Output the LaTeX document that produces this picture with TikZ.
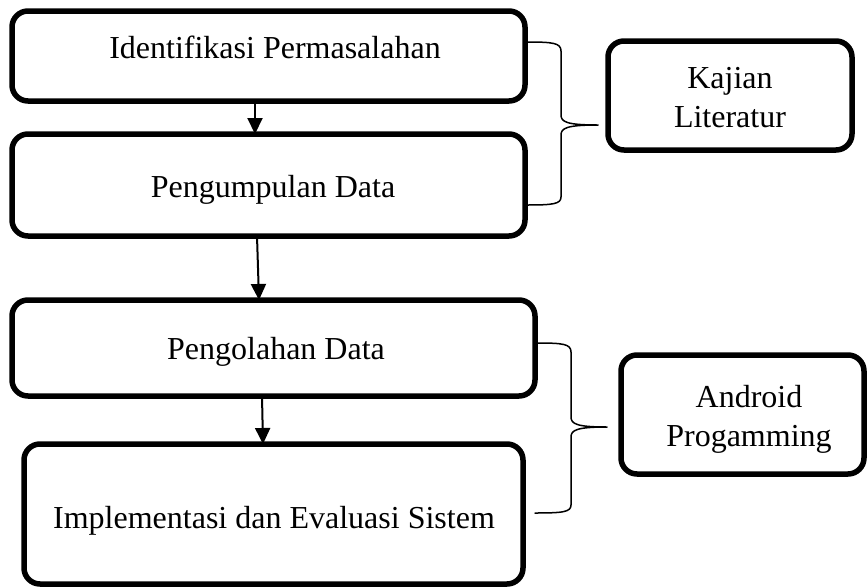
\documentclass[tikz,border=0pt]{standalone}
\usepackage{fontspec}
\setmainfont{Liberation Serif}
\usetikzlibrary{arrows.meta}
\begin{document}
\begin{tikzpicture}[x=1pt,y=-1pt,
  box/.style={draw, line width=5.5pt, rounded corners=16pt, inner sep=0pt, outer sep=0pt},
  lbl/.style={font=\fontsize{32}{39}\selectfont, anchor=base, inner sep=0pt, align=center},
  arr/.style={line width=2pt, -{Triangle[length=16pt,width=15pt]}},
  brace/.style={line width=1.5pt, line join=round, line cap=round}]
\useasboundingbox (0,0) rectangle (868,587);
% boxes
\node[box, minimum width=513pt, minimum height=90pt]  (b1) at (268.5,56) {};
\node[box, minimum width=513pt, minimum height=102pt] (b2) at (268.5,185) {};
\node[box, minimum width=523pt, minimum height=96pt]  (b3) at (273.5,348) {};
\node[box, minimum width=499pt, minimum height=140pt] (b4) at (273.5,514) {};
\node[box, minimum width=244pt, minimum height=109pt] (kl) at (730,95.5) {};
\node[box, minimum width=243pt, minimum height=119pt] (ap) at (742.5,414.5) {};
% labels (base anchor = baseline of the last line)
\node[lbl] (t1) at (275,58)  {Identifikasi Permasalahan};
\node[lbl] (t2) at (273,197) {Pengumpulan Data};
\node[lbl] (t3) at (276,359) {Pengolahan Data};
\node[lbl] (t4) at (274,528) {Implementasi dan Evaluasi Sistem};
\node[lbl] (t5) at (730,127) {Kajian\\Literatur};
\node[lbl] (t6) at (749,446) {Android\\Progamming};
% arrows
\draw[arr] ([xshift=-13.5pt]b1.south) -- ([xshift=-13.5pt]b2.north);
\draw[arr] ([xshift=-11.5pt]b2.south) -- ([xshift=-14.5pt]b3.north);
\draw[arr] ([xshift=-11.5pt]b3.south) -- ([xshift=-10.5pt]b4.north);
% braces
\draw[brace] (527,42) .. controls (553,42) and (561,43) .. (561,51) -- (561,115)
  .. controls (561,122) and (567,125) .. (598,125)
  .. controls (567,125) and (561,128) .. (561,135) -- (561,197)
  .. controls (561,204) and (553,205) .. (527,205);
\draw[brace] (537,343) .. controls (563,343) and (571,344) .. (571,352) -- (571,417)
  .. controls (571,424) and (577,427) .. (607,427)
  .. controls (577,427) and (571,430) .. (571,437) -- (571,505)
  .. controls (571,512) and (563,513) .. (535,513);
\end{tikzpicture}
\end{document}
